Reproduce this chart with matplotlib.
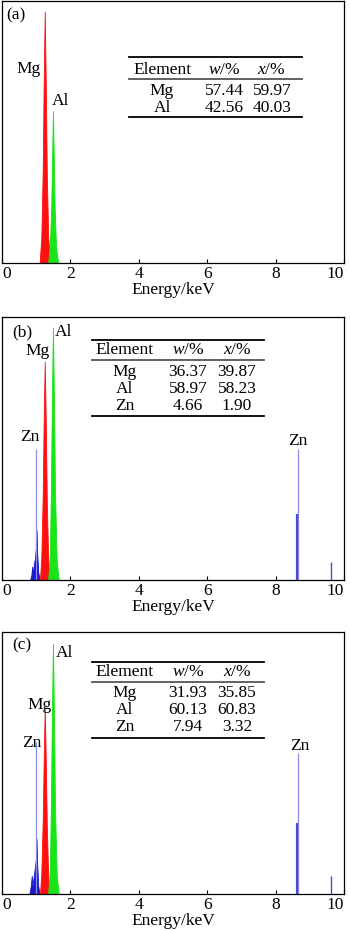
import matplotlib
matplotlib.use("Agg")
import matplotlib.pyplot as plt

plt.rcParams['font.family'] = ['Liberation Serif', 'DejaVu Serif']
plt.rcParams['mathtext.fontset'] = 'custom'
plt.rcParams['mathtext.it'] = 'Liberation Serif:italic'
plt.rcParams['mathtext.rm'] = 'Liberation Serif'

# peak profiles (energy in keV, normalised counts)
a_mg_e = [1.10, 1.15, 1.19, 1.22, 1.25, 1.28, 1.31, 1.35, 1.41]
a_mg_i = [0.00, 0.10, 0.35, 0.70, 0.96, 0.68, 0.34, 0.10, 0.00]
a_al_e = [1.35, 1.40, 1.44, 1.47, 1.49, 1.51, 1.54, 1.58, 1.64]
a_al_i = [0.00, 0.07, 0.22, 0.44, 0.58, 0.43, 0.21, 0.06, 0.00]

b_mg_e = [1.11, 1.15, 1.19, 1.22, 1.25, 1.28, 1.31, 1.35, 1.40]
b_mg_i = [0.00, 0.09, 0.32, 0.62, 0.83, 0.60, 0.30, 0.08, 0.00]
b_al_e = [1.35, 1.40, 1.43, 1.46, 1.49, 1.52, 1.55, 1.60, 1.66]
b_al_i = [0.00, 0.10, 0.34, 0.70, 0.96, 0.68, 0.33, 0.07, 0.00]
b_zn_e = [0.82, 0.86, 0.88, 0.90, 0.93, 0.96, 0.99, 1.01, 1.03, 1.06, 1.10]
b_zn_i = [0.00, 0.02, 0.05, 0.02, 0.06, 0.08, 0.12, 0.19, 0.10, 0.03, 0.00]

c_mg_e = [1.11, 1.15, 1.19, 1.22, 1.25, 1.28, 1.31, 1.35, 1.40]
c_mg_i = [0.00, 0.08, 0.28, 0.52, 0.71, 0.51, 0.26, 0.07, 0.00]
c_al_e = [1.35, 1.40, 1.43, 1.46, 1.49, 1.52, 1.55, 1.60, 1.66]
c_al_i = [0.00, 0.10, 0.34, 0.70, 0.955, 0.68, 0.33, 0.07, 0.00]
c_zn_e = [0.80, 0.84, 0.87, 0.89, 0.92, 0.95, 0.99, 1.01, 1.03, 1.06, 1.10]
c_zn_i = [0.00, 0.03, 0.07, 0.03, 0.06, 0.09, 0.13, 0.21, 0.11, 0.03, 0.00]

# Zn sharp lines: thin tall line, thicker short line, K-beta
zn_l_pos = 1.00
zn_ka_pos = 8.63
zn_kb_pos = 9.61
b_zn_lines = [0.50, 0.50, 0.25, 0.067]   # L thin, Ka thin, Ka thick, Kb
c_zn_lines = [0.58, 0.54, 0.27, 0.07]

# composition tables
a_rows = [["Mg", "57.44", "59.97"], ["Al", "42.56", "40.03"]]
b_rows = [["Mg", "36.37", "39.87"], ["Al", "58.97", "58.23"], ["Zn", "4.66", "1.90"]]
c_rows = [["Mg", "31.93", "35.85"], ["Al", "60.13", "60.83"], ["Zn", "7.94", "3.32"]]
ticks = [0, 2, 4, 6, 8, 10]

red = '#ff1010'
green = '#18e418'
blue = '#1a1acc'
lav = '#8c8cec'
fs = 12.5

W, H = 350, 931
fig = plt.figure(figsize=(W / 100, H / 100), dpi=100)


def make_axes(top, bottom):
    ax = fig.add_axes([2 / W, (H - bottom) / H, 342 / W, (bottom - top) / H])
    ax.set_xlim(0, 10)
    ax.set_ylim(0, 1)
    ax.set_yticks([])
    ax.set_xticks(ticks)
    ax.set_xticklabels([str(t) for t in ticks])
    ax.tick_params(axis='x', direction='in', length=3, labelsize=fs, pad=2)
    labs = ax.get_xticklabels()
    labs[0].set_ha('left')
    labs[-1].set_ha('right')
    ax.set_xlabel('Energy/keV', fontsize=fs, labelpad=0)
    for s in ax.spines.values():
        s.set_linewidth(0.9)
    return ax


def draw_table(ax, rows, xl, xr, ytop, ymid, ybot, yhead, yrows, cols):
    for y, c in [(ytop, 'black'), (ymid, '#555555'), (ybot, 'black')]:
        ax.plot([xl, xr], [y, y], color=c, lw=1.3, transform=ax.transAxes,
                clip_on=False)
    heads = ['Element', '$\\mathit{w}$/%', '$\\mathit{x}$/%']
    for h, cx in zip(heads, cols):
        ax.text(cx, yhead, h, transform=ax.transAxes, ha='center', va='center',
                fontsize=fs)
    for row, y in zip(rows, yrows):
        for v, cx in zip(row, cols):
            ax.text(cx, y, v, transform=ax.transAxes, ha='center', va='center',
                    fontsize=fs)


# (a)
ax = make_axes(1, 263)
ax.fill_between(a_mg_e, a_mg_i, color=red, lw=0.6)
ax.fill_between(a_al_e, a_al_i, color=green, lw=0.6)
ax.text(0.41, 0.945, '(a)', fontsize=fs, ha='center', va='center')
ax.text(0.79, 0.74, 'Mg', fontsize=fs, ha='center', va='center')
ax.text(1.70, 0.62, 'Al', fontsize=fs, ha='center', va='center')
draw_table(ax, a_rows, 0.371, 0.877, 0.786, 0.702, 0.557, 0.737,
           [0.656, 0.592], [0.468, 0.649, 0.789])

# (b)
ax = make_axes(317, 580)
ax.fill_between(b_zn_e, b_zn_i, color=blue, lw=0.6)
ax.vlines(zn_l_pos, 0, b_zn_lines[0], color=lav, lw=0.9)
ax.fill_between(b_mg_e, b_mg_i, color=red, lw=0.6)
ax.fill_between(b_al_e, b_al_i, color=green, lw=0.6)
ax.vlines(zn_ka_pos + 0.02, 0, b_zn_lines[1], color=lav, lw=0.9)
ax.vlines(zn_ka_pos, 0, b_zn_lines[2], color='#4a4ad8', lw=1.6)
ax.vlines(zn_kb_pos, 0, b_zn_lines[3], color='#4a4ad8', lw=1.0)
ax.text(0.58, 0.943, '(b)', fontsize=fs, ha='center', va='center')
ax.text(1.80, 0.943, 'Al', fontsize=fs, ha='center', va='center')
ax.text(1.03, 0.871, 'Mg', fontsize=fs, ha='center', va='center')
ax.text(0.80, 0.544, 'Zn', fontsize=fs, ha='center', va='center')
ax.text(8.66, 0.53, 'Zn', fontsize=fs, ha='center', va='center')
draw_table(ax, b_rows, 0.263, 0.766, 0.913, 0.837, 0.624, 0.875,
           [0.791, 0.726, 0.662], [0.358, 0.544, 0.687])

# (c)
ax = make_axes(632, 894)
ax.fill_between(c_zn_e, c_zn_i, color=blue, lw=0.6)
ax.vlines(zn_l_pos, 0, c_zn_lines[0], color=lav, lw=0.9)
ax.fill_between(c_mg_e, c_mg_i, color=red, lw=0.6)
ax.fill_between(c_al_e, c_al_i, color=green, lw=0.6)
ax.vlines(zn_ka_pos + 0.02, 0, c_zn_lines[1], color=lav, lw=0.9)
ax.vlines(zn_ka_pos, 0, c_zn_lines[2], color='#4a4ad8', lw=1.6)
ax.vlines(zn_kb_pos, 0, c_zn_lines[3], color='#4a4ad8', lw=1.0)
ax.text(0.58, 0.95, '(c)', fontsize=fs, ha='center', va='center')
ax.text(1.82, 0.92, 'Al', fontsize=fs, ha='center', va='center')
ax.text(1.09, 0.72, 'Mg', fontsize=fs, ha='center', va='center')
ax.text(0.87, 0.576, 'Zn', fontsize=fs, ha='center', va='center')
ax.text(8.72, 0.565, 'Zn', fontsize=fs, ha='center', va='center')
draw_table(ax, c_rows, 0.263, 0.766, 0.885, 0.809, 0.595, 0.847,
           [0.767, 0.702, 0.637], [0.358, 0.544, 0.687])

fig.savefig('out.png', dpi=100)
